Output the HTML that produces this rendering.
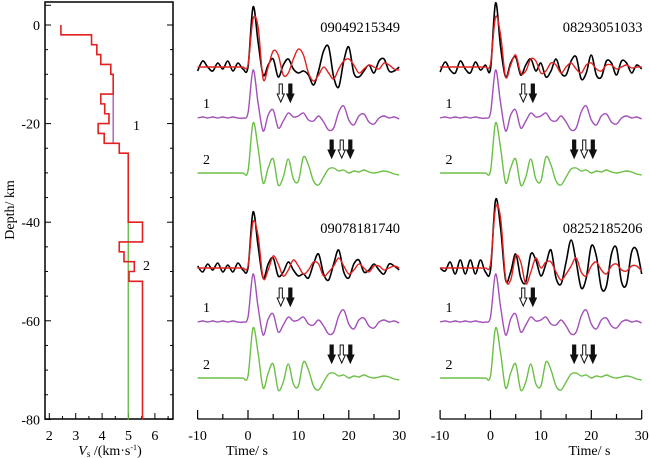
<!DOCTYPE html>
<html><head><meta charset="utf-8"><style>
html,body{margin:0;padding:0;background:#fff;}
svg{display:block;font-family:"Liberation Serif",serif;}
</style></head><body>
<svg id="fig" width="650" height="458" viewBox="0 0 650 458">
<g id="left"></g>
<g id="waves"></g>
</svg>
<script>
// ---- velocity profile data ----
const depthBounds = [0,2,4,6,8,10,14,16,18,20,22,24,26,40,44,46,48,50,52,80];
const vsModel = [2.44,3.6,3.8,3.95,4.33,4.42,3.95,4.1,4.26,3.85,4.08,4.65,4.99,5.53,4.65,4.83,5.22,5.02,5.53];
const purpleSeg = {v:4.42, d0:14, d1:24};
const greenSeg = {v:4.99, d0:40, d1:80};
const vsTicks = [2,3,4,5,6];
const depthTicks = [0,-20,-40,-60,-80];
// ---- waveform data (t = -10..30 s, 1 s step) ----
const times = Array.from({length:41},(_,i)=>i-10);
const obsBlackA = [-4,6,0,-4,4,-2,6,-4,4,-2,0,60,25,-8,2,8,-10,2,8,-2,-6,-4,-8,-18,-4,16,20,-10,-20,6,20,-6,-10,-4,2,-6,6,8,-4,-4,0];
const obsRedA = [0,0,0,0,0,0,0,0,0,0,2,48,40,-12,0,16,12,-8,-6,8,18,12,-6,-14,-8,0,-6,-12,-2,6,8,2,-6,-2,2,0,-2,4,2,-2,-3];
const obsBlackB = [-5,5,-3,-6,6,-2,-6,5,-3,2,-2,64,20,-10,4,10,-8,2,8,-4,4,-10,-4,8,-6,-8,6,10,-12,-6,12,-8,-10,6,4,-8,6,4,-6,2,-2];
const obsRedB = [0,0,0,0,0,0,0,0,0,0,3,50,32,-10,2,12,-6,-4,8,6,-6,-4,4,2,-6,0,4,-2,-6,2,4,-2,-4,2,2,-2,0,2,-1,0,0];
const obsBlackC = [2,-4,4,-2,5,-4,3,-4,5,-2,0,56,22,-10,4,10,-8,-4,6,-2,-8,-6,-10,4,14,-6,-12,4,18,-4,-10,4,8,-4,-2,4,-2,-6,4,2,-2];
const obsRedC = [0,0,0,0,0,0,0,0,0,0,2,46,32,-10,-2,12,4,-8,-2,8,2,-6,-2,6,4,-8,-4,2,10,2,-6,-2,4,0,-4,2,2,-2,0,2,0];
const obsBlackD = [0,-3,6,-6,8,-6,8,-6,8,-4,-2,68,40,-12,-4,14,-10,-14,14,8,-8,4,18,-10,-16,6,28,6,-20,-10,22,12,-20,-18,14,20,-14,-16,16,18,-6];
const obsRedD = [0,0,0,0,0,0,0,0,0,0,4,60,50,-10,-12,12,6,-16,-4,10,0,6,6,-4,-12,-6,2,10,-4,-8,2,6,-2,-6,2,4,-2,-3,2,2,-3];
const syn1 = [0,1,0,1,0,1,0,1,0,0,5,48,15,-13,3,8,-10,-3,5,1,2,5,-2,-3,2,-4,-12,-10,6,12,-2,-7,2,4,-4,-6,0,2,0,1,-1];
const syn2 = [0,0,0,0,0,0,0,0,0,0,2,50,25,-10,5,14,-12,-4,14,-6,-8,16,8,-8,-12,-4,4,5,2,3,0,2,1,3,1,0,1,2,1,-1,-2];
const panels = [
  {id:"09049215349", black:obsBlackA, red:obsRedA, x0:248, y:[67,118,173]},
  {id:"08293051033", black:obsBlackB, red:obsRedB, x0:490.5, y:[67,118,173]},
  {id:"09078181740", black:obsBlackC, red:obsRedC, x0:248, y:[268,322,378]},
  {id:"08252185206", black:obsBlackD, red:obsRedD, x0:490.5, y:[268,322,378]}
];
const arrows1 = [{t:6.5,solid:false},{t:8.4,solid:true}];
const arrows2 = [{t:16.6,solid:true},{t:18.6,solid:false},{t:20.3,solid:true}];
const timeTicks = [-10,0,10,20,30];

const NS="http://www.w3.org/2000/svg";
function mk(tag,attrs,parent){const e=document.createElementNS(NS,tag);for(const k in attrs)e.setAttribute(k,attrs[k]);parent.appendChild(e);return e;}

// ---- left panel ----
const L=document.getElementById('left');
const vx=v=>49.3+(v-2)*26.4;
const dy=d=>25+d*4.93;
let fr=mk('rect',{x:45,y:2,width:128,height:417,fill:'none',stroke:'#000','stroke-width':1.5},L);

for(let d=0;d<=80;d+=5){const y=dy(d);const len=(d%20===0)?6:3;
  mk('line',{x1:45,x2:45+len,y1:y,y2:y,stroke:'#000'},L);mk('line',{x1:173,x2:173-len,y1:y,y2:y,stroke:'#000'},L);}
mk('line',{x1:45,x2:51,y1:dy(-4),y2:dy(-4),stroke:'#000'},L);
depthTicks.forEach(t=>{const e=mk('text',{x:40,y:dy(-t)+5,'text-anchor':'end','font-size':14},L);e.textContent=t;
  });
for(let v=2;v<=6.5;v+=0.5){const x=vx(v);if(x>172)break;const len=(v%1===0)?6:3;
  mk('line',{x1:x,x2:x,y1:419,y2:419-len,stroke:'#000'},L);}
vsTicks.forEach(t=>{const e=mk('text',{x:vx(t),y:440,'text-anchor':'middle','font-size':14},L);e.textContent=t;
  });
let yl=mk('text',{x:14,y:210,'text-anchor':'middle','font-size':14,transform:'rotate(-90 14 210)'},L);yl.textContent='Depth/ km';

let xl=mk('text',{x:110,y:455,'text-anchor':'middle','font-size':14},L);
xl.innerHTML='<tspan font-style="italic">V</tspan><tspan font-size="9" dy="2">s</tspan><tspan dy="-2"> /(km·s</tspan><tspan font-size="8" dy="-5">-1</tspan><tspan dy="5">)</tspan>';

let pp=mk('line',{x1:vx(purpleSeg.v),x2:vx(purpleSeg.v),y1:dy(purpleSeg.d0),y2:dy(purpleSeg.d1),stroke:'#a24fb8','stroke-width':1.3},L);

let gp=mk('line',{x1:vx(greenSeg.v),x2:vx(greenSeg.v),y1:dy(greenSeg.d0),y2:dy(greenSeg.d1),stroke:'#5fb83a','stroke-width':1.3},L);

let pd='';vsModel.forEach((v,i)=>{pd+=(i?'L':'M')+vx(v)+' '+dy(depthBounds[i])+' L'+vx(v)+' '+dy(depthBounds[i+1])+' ';});
let rp=mk('path',{d:pd,fill:'none',stroke:'#e32020','stroke-width':1.6},L);

let l1=mk('text',{x:133,y:130,'font-size':14},L);l1.textContent='1';
let l2=mk('text',{x:143,y:270,'font-size':14},L);l2.textContent='2';

// ---- waveforms ----
const W=document.getElementById('waves');
const sx=5.04;
function curve(vals,x0,y0){
  const pts=vals.map((v,i)=>[x0+times[i]*sx,y0-v]);
  let d='M'+pts[0][0]+' '+pts[0][1];
  for(let i=0;i<pts.length-1;i++){const p0=pts[Math.max(0,i-1)],p1=pts[i],p2=pts[i+1],p3=pts[Math.min(pts.length-1,i+2)];
    d+=' C'+(p1[0]+(p2[0]-p0[0])/6)+' '+(p1[1]+(p2[1]-p0[1])/6)+' '+(p2[0]-(p3[0]-p1[0])/6)+' '+(p2[1]-(p3[1]-p1[1])/6)+' '+p2[0]+' '+p2[1];}
  return d;}
function arrow(g,x,ytop,solid){
  const d=`M${x-1.6} ${ytop} L${x+1.6} ${ytop} L${x+1.6} ${ytop+10} L${x+3.6} ${ytop+10} L${x} ${ytop+18} L${x-3.6} ${ytop+10} L${x-1.6} ${ytop+10} Z`;
  const a=mk('path',{d:d,fill:solid?'#111':'#fff',stroke:'#111','stroke-width':1},g);
  }
panels.forEach((p,k)=>{
  const g=mk('g',{},W);
  const id=mk('text',{x:p.x0+152,y:p.y[0]-35,'text-anchor':'end','font-size':14.5},g);id.textContent=p.id;
  
  const s2=mk('path',{d:curve(syn2,p.x0,p.y[2]),fill:'none',stroke:'#6cbf45','stroke-width':1.4},g);
  
  const s1=mk('path',{d:curve(syn1,p.x0,p.y[1]),fill:'none',stroke:'#a24fb8','stroke-width':1.4},g);
  
  const bk=mk('path',{d:curve(p.black,p.x0,p.y[0]),fill:'none',stroke:'#000','stroke-width':1.6},g);
  
  const rd=mk('path',{d:curve(p.red,p.x0,p.y[0]),fill:'none',stroke:'#e32020','stroke-width':1.4},g);
  
  const t1=mk('text',{x:p.x0-45,y:p.y[1]-10,'font-size':14},g);t1.textContent='1';
  const t2=mk('text',{x:p.x0-45,y:p.y[2]-9,'font-size':14},g);t2.textContent='2';
  arrows1.forEach(a=>arrow(g,p.x0+a.t*sx,p.y[1]-34,a.solid));
  arrows2.forEach(a=>arrow(g,p.x0+a.t*sx,p.y[2]-33,a.solid));
  if(k>=2){
    const ax=mk('g',{},g);
    mk('line',{x1:p.x0-10*sx,x2:p.x0+30*sx,y1:419,y2:419,stroke:'#000','stroke-width':1.2},ax);
    for(let t=-10;t<=30;t+=5){const x=p.x0+t*sx;mk('line',{x1:x,x2:x,y1:419,y2:t%10===0?410:414,stroke:'#000','stroke-width':1.2},ax);}
    timeTicks.forEach(t=>{const e=mk('text',{x:p.x0+t*sx,y:440,'text-anchor':'middle','font-size':14},ax);e.textContent=t;
      });
    const tl=mk('text',{x:p.x0+(k===2?-1:99),y:455,'text-anchor':'middle','font-size':14},ax);tl.textContent='Time/ s';
    
  }
});
</script>
</body></html>
